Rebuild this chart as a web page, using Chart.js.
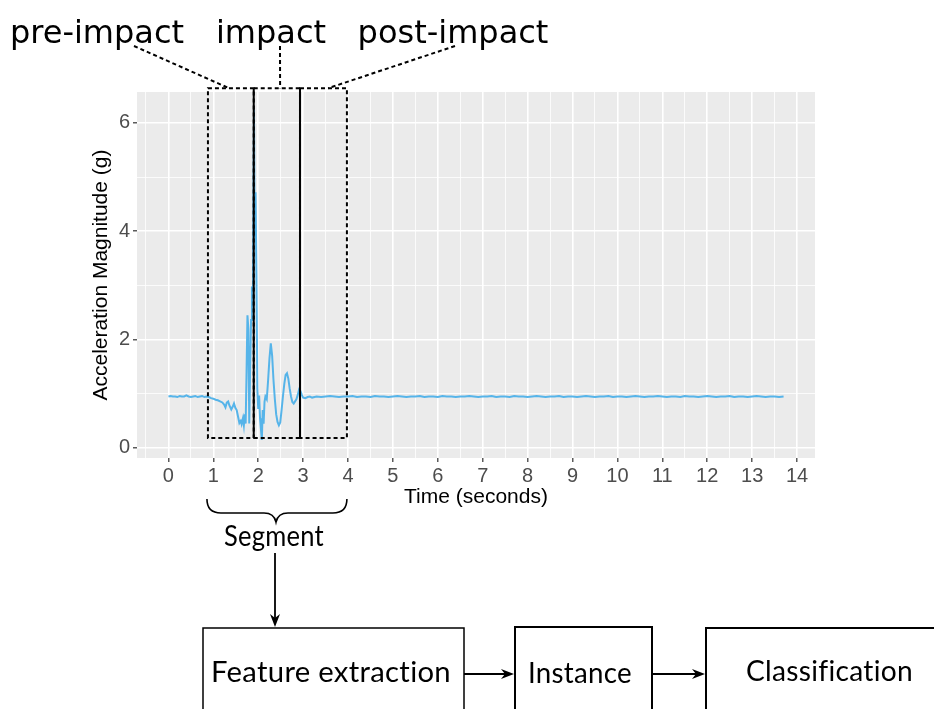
<!DOCTYPE html>
<html>
<head>
<meta charset="utf-8">
<script src="https://cdn.jsdelivr.net/npm/chart.js@4.4.1/dist/chart.umd.min.js"></script>
<style>
html,body{margin:0;padding:0;background:#fff;}
canvas{display:block;}
</style>
</head>
<body>
<canvas id="c" width="934" height="709"></canvas>
<script>
// ---- data ----
const quietBeforeTimes = [0.00,0.05,0.10,0.15,0.20,0.25,0.30,0.35,0.40,0.45,0.50,0.55,0.60,0.65,0.70,0.75,0.80,0.85];
const quietBeforeAccel = [0.95,0.96,0.95,0.95,0.94,0.96,0.95,0.95,0.97,0.95,0.94,0.95,0.96,0.94,0.95,0.96,0.94,0.95];

const impactTimes = [0.90,0.95,1.00,1.05,1.10,1.15,1.20,1.24,1.27,1.30,1.33,1.36,
  1.40,1.43,1.46,1.49,1.52,1.55,1.58,1.61,
  1.63,1.66,1.68,1.70,1.72,1.74,1.76,1.78,1.80,
  1.82,1.84,1.86,1.88,1.905,1.92,1.94,1.96,1.98,
  2.00,2.02,2.04,2.06,2.08,2.10,2.12,2.14,2.16,
  2.19,2.22,2.25,2.28,2.31,2.34,2.37,2.40,
  2.43,2.46,2.49,2.52,2.55,2.58,2.61,2.64,
  2.67,2.70,2.73,2.76,2.79,2.82,2.85,2.88,
  2.91,2.94,2.97,3.00,3.05,3.10,3.15,3.20];
const impactAccel = [0.94,0.92,0.91,0.89,0.88,0.86,0.84,0.80,0.75,0.84,0.86,0.78,
  0.71,0.76,0.82,0.74,0.70,0.58,0.46,0.50,
  0.44,0.55,0.42,0.62,0.45,1.40,2.45,2.20,0.45,
  1.50,2.36,2.98,2.60,6.25,3.90,4.72,3.20,1.10,
  0.72,0.97,0.55,0.35,0.15,0.70,0.45,0.85,0.95,
  0.90,1.25,1.65,1.93,1.70,1.25,0.90,0.62,
  0.48,0.42,0.47,0.70,0.95,1.18,1.35,1.38,
  1.28,1.10,0.95,0.85,0.82,0.86,0.90,0.98,
  1.08,1.05,0.98,0.93,0.92,0.94,0.95,0.93];

const quietAfterTimes = [3.3,3.4,3.5,3.6,3.7,3.8,3.9,4.0,4.1,4.2,
  4.3,4.4,4.5,4.6,4.7,4.8,4.9,5.0,5.1,5.2,
  5.3,5.4,5.5,5.6,5.7,5.8,5.9,6.0,6.1,6.2,
  6.3,6.4,6.5,6.6,6.7,6.8,6.9,7.0,7.1,7.2,
  7.3,7.4,7.5,7.6,7.7,7.8,7.9,8.0,8.1,8.2,
  8.3,8.4,8.5,8.6,8.7,8.8,8.9,9.0,9.1,9.2,
  9.3,9.4,9.5,9.6,9.7,9.8,9.9,10.0,10.1,10.2,
  10.3,10.4,10.5,10.6,10.7,10.8,10.9,11.0,11.1,11.2,
  11.3,11.4,11.5,11.6,11.7,11.8,11.9,12.0,12.1,12.2,
  12.3,12.4,12.5,12.6,12.7,12.8,12.9,13.0,13.1,13.2,
  13.3,13.4,13.5,13.6,13.7];
const quietAfterAccel = [0.95,0.94,0.95,0.96,0.95,0.94,0.95,0.95,0.96,0.94,
  0.95,0.95,0.94,0.96,0.95,0.95,0.94,0.95,0.96,0.95,
  0.94,0.95,0.95,0.96,0.94,0.95,0.95,0.94,0.96,0.95,
  0.95,0.94,0.95,0.95,0.96,0.95,0.94,0.95,0.95,0.96,
  0.94,0.95,0.95,0.94,0.96,0.95,0.95,0.94,0.95,0.96,
  0.95,0.94,0.95,0.95,0.96,0.94,0.95,0.95,0.94,0.95,
  0.96,0.95,0.94,0.95,0.95,0.96,0.94,0.95,0.95,0.94,
  0.95,0.96,0.95,0.94,0.95,0.95,0.96,0.95,0.94,0.95,
  0.95,0.94,0.96,0.95,0.95,0.94,0.95,0.96,0.95,0.94,
  0.95,0.95,0.96,0.94,0.95,0.95,0.94,0.95,0.96,0.95,
  0.94,0.95,0.95,0.94,0.95];

const xTickValues = [-0.5,0,0.5,1,1.5,2,2.5,3,3.5,4,4.5,5,5.5,6,6.5,7,7.5,8,8.5,9,9.5,10,10.5,11,11.5,12,12.5,13,13.5,14];
const yTickValues = [0,1,2,3,4,5,6];

// segment windows (seconds) and their vertical extent (g)
const segmentBounds = [0.88, 1.90, 2.93, 3.975];
const windowTopG = 6.64;
const windowBottomG = 0.185;
const segmentLabels = ['pre-impact', 'impact', 'post-impact'];
const pipelineLabels = ['Feature extraction', 'Instance', 'Classification'];
const braceLabel = 'Segment';

// ---- build series ----
const timeSec = quietBeforeTimes.concat(impactTimes, quietAfterTimes);
const accelG = quietBeforeAccel.concat(impactAccel, quietAfterAccel);
const points = timeSec.map((t, i) => ({ x: t, y: accelG[i] }));

const isMajorX = v => Math.abs(v - Math.round(v)) < 1e-6;
const isMajorY = v => Math.abs(v / 2 - Math.round(v / 2)) < 1e-6;

function fitText(ctx, text, cx, baseline, width, font) {
  ctx.save();
  ctx.font = font;
  try { ctx.letterSpacing = '0.3px'; } catch (e) {}
  const w = ctx.measureText(text).width;
  ctx.translate(cx, baseline);
  ctx.scale(width / w, 1);
  ctx.textAlign = 'center';
  ctx.textBaseline = 'alphabetic';
  ctx.fillText(text, 0, 0);
  ctx.restore();
}

function arrow(ctx, x1, y1, x2, y2) {
  const ang = Math.atan2(y2 - y1, x2 - x1);
  const L = 13, W = 5, N = 9;
  ctx.beginPath();
  ctx.moveTo(x1, y1);
  ctx.lineTo(x2 - N * Math.cos(ang), y2 - N * Math.sin(ang));
  ctx.stroke();
  ctx.save();
  ctx.translate(x2, y2);
  ctx.rotate(ang);
  ctx.beginPath();
  ctx.moveTo(0, 0);
  ctx.lineTo(-L, -W);
  ctx.lineTo(-N, 0);
  ctx.lineTo(-L, W);
  ctx.closePath();
  ctx.fill();
  ctx.restore();
}

const overlay = {
  id: 'overlay',
  beforeDraw(chart) {
    const { ctx, chartArea: a } = chart;
    ctx.save();
    ctx.fillStyle = '#EBEBEB';
    ctx.fillRect(a.left, a.top, a.right - a.left, a.bottom - a.top);
    ctx.restore();
  },
  afterDraw(chart) {
    const { ctx } = chart;
    const xs = chart.scales.x, ys = chart.scales.y;
    const px = segmentBounds.map(v => xs.getPixelForValue(v));
    const yT = ys.getPixelForValue(windowTopG);
    const yB = ys.getPixelForValue(windowBottomG);

    ctx.save();
    ctx.strokeStyle = '#000';
    ctx.fillStyle = '#000';
    ctx.lineWidth = 2;
    // dashed windows
    ctx.setLineDash([4, 3]);
    ctx.strokeRect(px[0], yT, px[1] - px[0], yB - yT);
    ctx.strokeRect(px[2], yT, px[3] - px[2], yB - yT);
    ctx.beginPath();
    ctx.moveTo(px[1], yT); ctx.lineTo(px[2], yT);
    ctx.moveTo(px[1], yB); ctx.lineTo(px[2], yB);
    ctx.stroke();
    // solid impact borders
    ctx.setLineDash([]);
    ctx.beginPath();
    ctx.moveTo(px[1], yT); ctx.lineTo(px[1], yB);
    ctx.moveTo(px[2], yT); ctx.lineTo(px[2], yB);
    ctx.stroke();

    // connectors to labels
    ctx.setLineDash([4, 3]);
    ctx.beginPath();
    ctx.moveTo(134, 46); ctx.lineTo(px[0] + 0.46 * (px[1] - px[0]), yT);
    ctx.moveTo(280, 46); ctx.lineTo(px[1] + 0.57 * (px[2] - px[1]), yT);
    ctx.moveTo(455, 46); ctx.lineTo(px[2] + 0.60 * (px[3] - px[2]), yT);
    ctx.stroke();
    ctx.setLineDash([]);

    // top labels
    ctx.font = '32px "DejaVu Sans"';
    ctx.textAlign = 'center';
    ctx.textBaseline = 'alphabetic';
    ctx.fillText(segmentLabels[0], 97, 43);
    ctx.fillText(segmentLabels[1], 271, 43);
    ctx.fillText(segmentLabels[2], 453, 43);

    // brace
    const bL = px[0] - 1, bR = px[3], bC = 276;
    ctx.lineWidth = 1.6;
    ctx.beginPath();
    ctx.moveTo(bL, 499);
    ctx.quadraticCurveTo(bL, 513, bL + 14, 513);
    ctx.lineTo(bC - 12, 513);
    ctx.quadraticCurveTo(bC - 2, 513, bC, 522);
    ctx.quadraticCurveTo(bC + 2, 513, bC + 12, 513);
    ctx.lineTo(bR - 14, 513);
    ctx.quadraticCurveTo(bR, 513, bR, 499);
    ctx.stroke();

    const bodyFont = '29px Lato, "Open Sans", sans-serif';
    fitText(ctx, braceLabel, 274, 546, 100, bodyFont);

    // pipeline boxes
    ctx.lineWidth = 1.5;
    ctx.strokeRect(203, 628, 261, 120);
    ctx.lineWidth = 2;
    ctx.strokeRect(515, 627, 137, 120);
    ctx.strokeRect(706, 628, 260, 120);

    fitText(ctx, pipelineLabels[0], 331, 682, 240, bodyFont);
    fitText(ctx, pipelineLabels[1], 580, 683, 104, bodyFont);
    fitText(ctx, pipelineLabels[2], 829.5, 681, 167, bodyFont);

    // arrows
    ctx.lineWidth = 1.8;
    arrow(ctx, 275, 553, 275, 627);
    arrow(ctx, 464, 674, 514, 674);
    arrow(ctx, 652, 674, 705, 674);
    ctx.restore();
  }
};

const tickFont = { family: '"Liberation Sans", Arial, Helvetica, sans-serif', size: 20 };
const titleFont = { family: '"Liberation Sans", Arial, Helvetica, sans-serif', size: 21 };

new Chart(document.getElementById('c'), {
  type: 'line',
  data: {
    datasets: [{
      data: points,
      borderColor: '#56B4E9',
      borderWidth: 2,
      pointRadius: 0,
      tension: 0,
      fill: false
    }]
  },
  options: {
    responsive: false,
    animation: false,
    devicePixelRatio: 1,
    layout: { padding: { left: 89, top: 92, right: 119, bottom: 199 } },
    plugins: { legend: { display: false }, tooltip: { enabled: false } },
    scales: {
      x: {
        type: 'linear',
        min: -0.70,
        max: 14.40,
        afterBuildTicks: s => { s.ticks = xTickValues.map(v => ({ value: v })); },
        afterFit: s => { s.height = 52; },
        border: { display: false },
        grid: {
          color: '#FFFFFF',
          lineWidth: c => (c.tick && isMajorX(c.tick.value)) ? 1.6 : 0.8,
          tickLength: 4,
          tickWidth: 1.2,
          tickColor: c => (c.tick && isMajorX(c.tick.value)) ? '#333333' : 'rgba(0,0,0,0)'
        },
        ticks: {
          autoSkip: false,
          maxRotation: 0,
          minRotation: 0,
          padding: 2,
          color: '#4D4D4D',
          font: tickFont,
          callback: v => isMajorX(v) ? String(Math.round(v)) : ''
        },
        title: { display: true, text: 'Time (seconds)', color: '#000000', font: titleFont, padding: { top: 0, bottom: 0 } }
      },
      y: {
        type: 'linear',
        min: -0.185,
        max: 6.57,
        afterBuildTicks: s => { s.ticks = yTickValues.map(v => ({ value: v })); },
        afterFit: s => { s.width = 48; },
        border: { display: false },
        grid: {
          color: '#FFFFFF',
          lineWidth: c => (c.tick && isMajorY(c.tick.value)) ? 1.6 : 0.8,
          tickLength: 4,
          tickWidth: 1.2,
          tickColor: c => (c.tick && isMajorY(c.tick.value)) ? '#333333' : 'rgba(0,0,0,0)'
        },
        ticks: {
          autoSkip: false,
          padding: 3,
          color: '#4D4D4D',
          font: tickFont,
          callback: v => isMajorY(v) ? String(Math.round(v)) : ''
        },
        title: { display: true, text: 'Acceleration Magnitude (g)', color: '#000000', font: titleFont, padding: { top: 0, bottom: 0 } }
      }
    }
  },
  plugins: [overlay]
});
</script>
</body>
</html>
